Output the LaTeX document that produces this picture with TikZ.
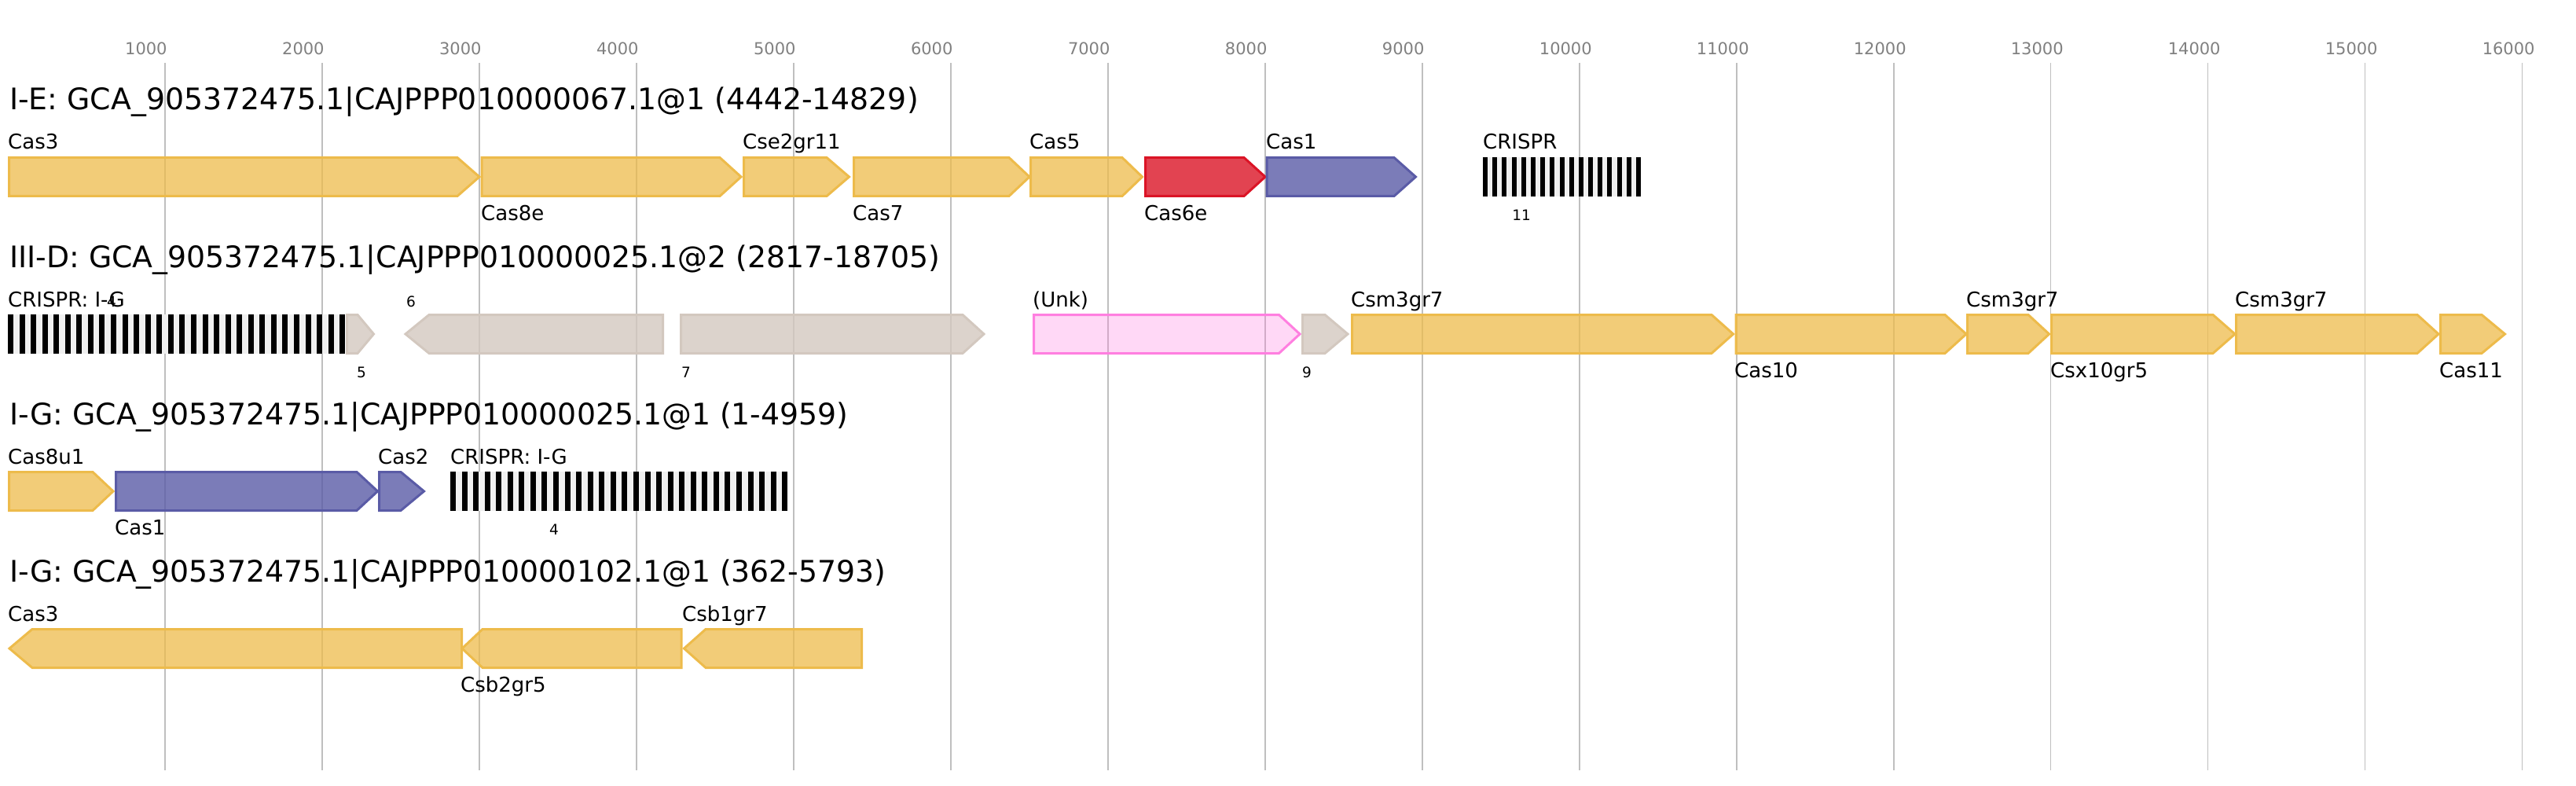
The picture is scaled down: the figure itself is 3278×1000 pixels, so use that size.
\documentclass[tikz,border=0pt]{standalone}
\usepackage{fontspec}
\setmainfont{DejaVu Sans}
\definecolor{casyellow}{HTML}{EDBB4B}
\definecolor{casred}{HTML}{DB1426}
\definecolor{casblue}{HTML}{5A5BA6}
\definecolor{casgray}{HTML}{D3C8BF}
\definecolor{caspink}{HTML}{FF7FE0}
\definecolor{gridgray}{HTML}{BFBFBF}
\definecolor{tickgray}{HTML}{808080}
\definecolor{crisprbg}{HTML}{F0F0F0}

% forward gene: style, start, body end, tip, row centre
\newcommand{\fwdgene}[5]{\draw[#1] (#2,#5-24.5) -- (#3,#5-24.5) -- (#4,#5) -- (#3,#5+24.5) -- (#2,#5+24.5) -- cycle;}
% reverse gene: style, tip, body start, end, row centre
\newcommand{\revgene}[5]{\draw[#1] (#2,#5) -- (#3,#5-24.5) -- (#4,#5-24.5) -- (#4,#5+24.5) -- (#3,#5+24.5) -- cycle;}
% crispr array: start, repeats, pitch, bar width, row centre
\newcommand{\crisprarray}[5]{%
  \fill[crisprbg] (#1,#5-25) rectangle ({#1+(#2-1)*#3+#4},#5+25);
  \foreach \k in {1,...,#2} \fill[black] ({#1+(\k-1)*#3},#5-25) rectangle ++(#4,50);}

\begin{document}
\begin{tikzpicture}[x=1pt,y=-1pt,
    gridline/.style={draw=gridgray,line width=1.7pt},
    tick label/.style={font=\fontsize{21}{25}\selectfont,text=tickgray,anchor=base west,inner sep=0pt},
    row title/.style={font=\fontsize{37.8}{44}\selectfont,anchor=base west,inner sep=0pt},
    lbl/.style={font=\fontsize{26}{30}\selectfont,anchor=base west,inner sep=0pt},
    num/.style={font=\fontsize{18.5}{22}\selectfont,anchor=base,inner sep=0pt},
    yellow gene/.style={draw=casyellow,fill=casyellow,fill opacity=0.75,line width=3pt},
    red gene/.style={draw=casred,fill=casred,fill opacity=0.8,line width=3pt},
    blue gene/.style={draw=casblue,fill=casblue,fill opacity=0.8,line width=3pt},
    gray gene/.style={draw=casgray,fill=casgray,fill opacity=0.8,line width=3pt},
    pink gene/.style={draw=caspink,fill=caspink,fill opacity=0.3,line width=3pt}]
    \useasboundingbox (0,0) rectangle (3278,1000);

    % scale
    \foreach \k in {1,...,16} {
        \pgfmathtruncatemacro{\bp}{\k*1000}
        \draw[gridline] ({10+\k*199.97},80) -- ({10+\k*199.97},980);
        \node[tick label] (tick\k) at ({10+\k*199.97-51},70) {\bp};
    }

    % I-E
    \node[row title] (t1) at (12,140) {I-E: GCA\_905372475.1|CAJPPP010000067.1@1 (4442-14829)};
    \fwdgene{yellow gene}{11.5}{582}{610}{225}
    \fwdgene{yellow gene}{613}{916}{943}{225}
    \fwdgene{yellow gene}{946.5}{1052}{1080.5}{225}
    \fwdgene{yellow gene}{1086.5}{1284}{1310}{225}
    \fwdgene{yellow gene}{1311.5}{1428}{1453.5}{225}
    \fwdgene{red gene}{1457.5}{1583}{1610}{225}
    \fwdgene{blue gene}{1612}{1774}{1801.5}{225}
    \crisprarray{1887}{17}{12.19}{6}{225}
    \node[lbl] (cas3a) at (10,190) {Cas3};
    \node[lbl] (cas8e) at (612,280) {Cas8e};
    \node[lbl] (cse2) at (945,190) {Cse2gr11};
    \node[lbl] (cas7) at (1085,280) {Cas7};
    \node[lbl] (cas5) at (1310,190) {Cas5};
    \node[lbl] (cas6e) at (1456,280) {Cas6e};
    \node[lbl] (cas1a) at (1611,190) {Cas1};
    \node[lbl] (cr1) at (1887,190) {CRISPR};
    \node[num] (n11) at (1936,280) {11};

    % III-D
    \node[row title] (t2) at (12,340) {III-D: GCA\_905372475.1|CAJPPP010000025.1@2 (2817-18705)};
    \crisprarray{10}{30}{14.56}{7}{425}
    \fwdgene{gray gene}{441.5}{455}{475.5}{425}
    \revgene{gray gene}{516}{546}{843.5}{425}
    \fwdgene{gray gene}{866.5}{1225}{1252}{425}
    \fwdgene{pink gene}{1315.5}{1627.5}{1654}{425}
    \fwdgene{gray gene}{1657.5}{1686}{1715}{425}
    \fwdgene{yellow gene}{1720.5}{2178}{2205.5}{425}
    \fwdgene{yellow gene}{2209}{2475}{2502}{425}
    \fwdgene{yellow gene}{2503.5}{2581}{2607.5}{425}
    \fwdgene{yellow gene}{2610.5}{2816}{2844}{425}
    \fwdgene{yellow gene}{2845.5}{3076}{3103}{425}
    \fwdgene{yellow gene}{3105.5}{3158}{3187.5}{425}
    \node[lbl] (cr2) at (10,390) {CRISPR: I-G};
    \node[num] (n4a) at (142,390) {4};
    \node[num] (n5) at (460,480) {5};
    \node[num] (n6) at (523,390) {6};
    \node[num] (n7) at (873,480) {7};
    \node[lbl] (unk) at (1314,390) {(Unk)};
    \node[num] (n9) at (1663,480) {9};
    \node[lbl] (csm3a) at (1719,390) {Csm3gr7};
    \node[lbl] (cas10) at (2207,480) {Cas10};
    \node[lbl] (csm3b) at (2502,390) {Csm3gr7};
    \node[lbl] (csx10) at (2609,480) {Csx10gr5};
    \node[lbl] (csm3c) at (2844,390) {Csm3gr7};
    \node[lbl] (cas11) at (3104,480) {Cas11};

    % I-G
    \node[row title] (t3) at (12,540) {I-G: GCA\_905372475.1|CAJPPP010000025.1@1 (1-4959)};
    \fwdgene{yellow gene}{11.5}{118}{144}{625}
    \fwdgene{blue gene}{147.5}{454}{480.5}{625}
    \fwdgene{blue gene}{482.5}{510}{539.5}{625}
    \crisprarray{573}{30}{14.56}{7}{625}
    \node[lbl] (cas8u1) at (10,590) {Cas8u1};
    \node[lbl] (cas1b) at (146,680) {Cas1};
    \node[lbl] (cas2) at (481,590) {Cas2};
    \node[lbl] (cr3) at (573,590) {CRISPR: I-G};
    \node[num] (n4b) at (705,680) {4};

    % I-G
    \node[row title] (t4) at (12,740) {I-G: GCA\_905372475.1|CAJPPP010000102.1@1 (362-5793)};
    \revgene{yellow gene}{12}{41}{587.5}{825}
    \revgene{yellow gene}{588}{614}{867}{825}
    \revgene{yellow gene}{870.5}{898}{1096.5}{825}
    \node[lbl] (cas3b) at (10,790) {Cas3};
    \node[lbl] (csb2) at (586,880) {Csb2gr5};
    \node[lbl] (csb1) at (868,790) {Csb1gr7};

\end{tikzpicture}
\end{document}
